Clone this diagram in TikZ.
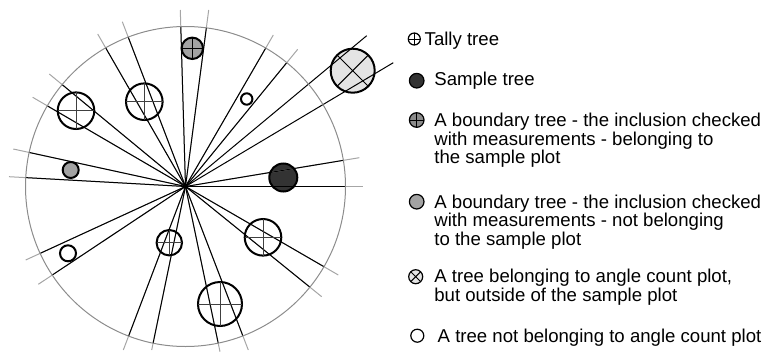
\documentclass[tikz,border=0pt]{standalone}
\usepackage{fontspec}
\setmainfont{Liberation Sans}
\usetikzlibrary{positioning}

\definecolor{darktree}{HTML}{333333}
\definecolor{boundgray}{HTML}{A3A3A3}
\definecolor{outgray}{HTML}{E4E4E4}

\begin{document}
\begin{tikzpicture}[
    x=0.5pt, y=-0.5pt,
    ray/.style = {line width=0.5pt},
    rayout/.style = {draw=black!35, line width=0.5pt},
    rim/.style = {draw=black!45, line width=0.5pt},
    tree/.style = {draw, line width=1pt},
    crossline/.style = {draw=black!75, line width=0.5pt},
    sym/.style = {draw, line width=0.6pt},
    legend/.style = {
      anchor = base west,
      inner sep = 0pt,
      align = left,
      font = \fontsize{9.3}{9.15}\selectfont
    }
  ]
  \useasboundingbox (0,0) rectangle (767,354);
  \coordinate (C) at (185.5,186.5);

  % trees in the plot
  \coordinate (t1) at (192.3,48.3);
  \coordinate (t2) at (352.7,70.7);
  \coordinate (t3) at (246.7,99);
  \coordinate (t4) at (144.3,101.7);
  \coordinate (t5) at (76,110.7);
  \coordinate (t6) at (70.7,170);
  \coordinate (t7) at (283.3,177.5);
  \coordinate (t8) at (68,253.3);
  \coordinate (t9) at (169.3,242.7);
  \coordinate (t10) at (263,237.3);
  \coordinate (t11) at (220,304);

  \fill[boundgray] (t1) circle[radius=10.7];
  \fill[outgray] (t2) circle[radius=22];
  \fill[boundgray] (t6) circle[radius=8];
  \fill[darktree] (t7) circle[radius=14];

  % rays
  \foreach \p in {(180.3,10), (208.7,10), (122.3,21.7), (97.7,34),
                  (49.3,74), (32.7,97.3), (13.3,149), (9,176.7),
                  (25.7,260), (38.3,284.3), (123.3,350), (151.7,350),
                  (220,351.7), (248.3,350), (338.3,275), (321.7,296.7),
                  (359.3,157.7), (362.7,186.5), (273.3,35), (297.7,49.3)}
    \draw[rayout] (C) -- \p;
  \begin{scope}
    \clip (C) circle[radius=160];
    \foreach \p in {(180.3,10), (208.7,10), (122.3,21.7), (97.7,34),
                    (49.3,74), (32.7,97.3), (13.3,149), (9,176.7),
                    (25.7,260), (38.3,284.3), (123.3,350), (151.7,350),
                    (220,351.7), (248.3,350), (338.3,275), (321.7,296.7),
                    (359.3,157.7), (362.7,186.5), (273.3,35), (297.7,49.3)}
      \draw[ray] (C) -- \p;
  \end{scope}
  \draw[ray] (C) -- (366.7,35.7);
  \draw[ray] (C) -- (393.3,62.7);
  \draw[rim] (C) circle[radius=160];

  % outlines
  \foreach \c/\r in {t4/18.3, t5/18.3, t9/12.7, t10/18.3, t11/22} {
    \draw[tree] (\c) circle[radius=\r];
    \draw[crossline] (\c) ++(-\r,0) -- ++(2*\r,0);
    \draw[crossline] (\c) ++(0,-\r) -- ++(0,2*\r);
  }
  \draw[tree] (t1) circle[radius=10.7];
  \draw[ray] (t1) ++(-10.7,0) -- ++(21.4,0) (t1) ++(0,-10.7) -- ++(0,21.4);
  \draw[tree] (t2) circle[radius=22];
  \draw[ray] (t2) ++(-15.6,-15.6) -- ++(31.1,31.1)
             (t2) ++(-15.6,15.6) -- ++(31.1,-31.1);
  \draw[tree] (t3) circle[radius=5.7];
  \draw[tree] (t6) circle[radius=8];
  \draw[tree] (t7) circle[radius=14];
  \draw[tree] (t8) circle[radius=8];

  % legend
  \coordinate (l1) at (414.3,39);
  \coordinate (l2) at (416.7,80.7);
  \coordinate (l3) at (416.7,120);
  \coordinate (l4) at (416.7,201.7);
  \coordinate (l5) at (415.7,276.7);
  \coordinate (l6) at (417.3,335.7);

  \draw[sym] (l1) circle[radius=6];
  \draw[ray] (l1) ++(-6,0) -- ++(12,0) (l1) ++(0,-6) -- ++(0,12);
  \draw[sym, fill=darktree] (l2) circle[radius=7.3];
  \draw[sym, fill=boundgray!85!black] (l3) circle[radius=7.3];
  \draw[ray] (l3) ++(-7.3,0) -- ++(14.6,0) (l3) ++(0,-7.3) -- ++(0,14.6);
  \draw[sym, fill=boundgray] (l4) circle[radius=7.3];
  \draw[sym, fill=outgray] (l5) circle[radius=7];
  \draw[ray] (l5) ++(-4.9,-4.9) -- ++(9.8,9.8) (l5) ++(-4.9,4.9) -- ++(9.8,-9.8);
  \draw[sym] (l6) circle[radius=6.5];

  % base anchor of a wrapped node sits on its last line
  \node[legend] (tally) at (424.3,45.7) {Tally tree};
  \node[legend] (sample) at (434,85.7) {Sample tree};
  \node[legend] (bin) at (434,163.3)
    {A boundary tree - the inclusion checked\\with measurements - belonging to\\the sample plot};
  \node[legend] (bout) at (434,245)
    {A boundary tree - the inclusion checked\\with measurements - not belonging\\to the sample plot};
  \node[legend] (angle) at (434,301)
    {A tree belonging to angle count plot,\\but outside of the sample plot};
  \node[legend] (notangle) at (437.3,342.3) {A tree not belonging to angle count plot};
\end{tikzpicture}
\end{document}
